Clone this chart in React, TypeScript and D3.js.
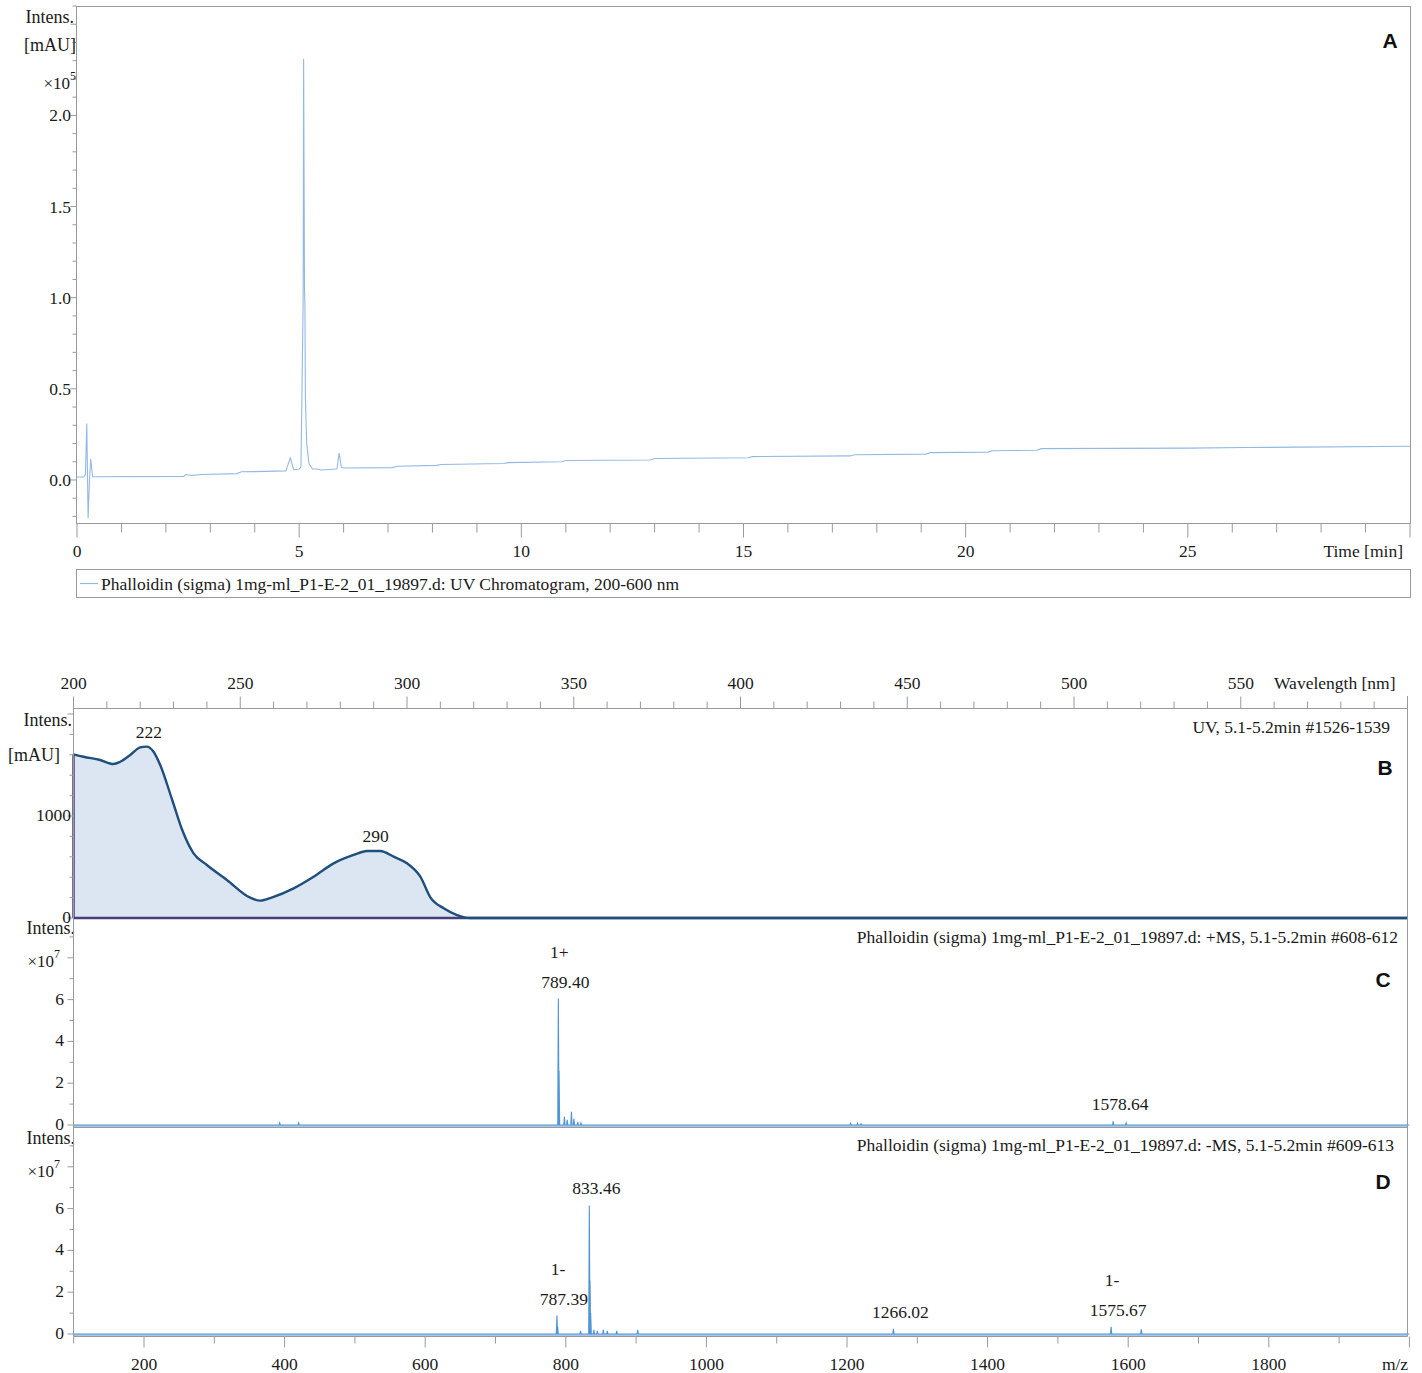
import { useEffect, useRef } from 'react';
import * as d3 from 'd3';

// --- A: UV chromatogram (time in min, intensity x10^5 mAU)
const CHROM_TIME = [0, 0.15, 0.19, 0.22, 0.25, 0.28, 0.31, 0.35, 2.4, 2.45, 2.6, 2.8, 3.6, 3.7, 4.0, 4.7, 4.8, 4.88, 5.0, 5.04, 5.07, 5.09, 5.1, 5.12, 5.13, 5.14, 5.17, 5.22, 5.3, 5.4, 5.5, 5.85, 5.9, 5.95, 6.0, 7.1, 7.2, 8.1, 8.2, 9.6, 9.7, 10.9, 11.0, 12.9, 13.0, 15.1, 15.2, 17.4, 17.5, 19.1, 19.2, 20.5, 20.6, 21.6, 21.7, 25.0, 26.3, 27.5, 30];
const CHROM_INT = [0.016, 0.016, 0.03, 0.31, -0.21, 0.0, 0.115, 0.018, 0.02, 0.03, 0.025, 0.03, 0.035, 0.045, 0.046, 0.05, 0.12, 0.055, 0.06, 0.07, 0.6, 1.0, 2.31, 1.05, 0.95, 0.45, 0.2, 0.09, 0.06, 0.06, 0.055, 0.06, 0.148, 0.07, 0.066, 0.068, 0.075, 0.08, 0.085, 0.09, 0.095, 0.1, 0.107, 0.11, 0.118, 0.122, 0.128, 0.132, 0.138, 0.142, 0.15, 0.153, 0.16, 0.163, 0.172, 0.175, 0.178, 0.18, 0.185];
const TIME_TICKS = [0, 5, 10, 15, 20, 25];
const CHROM_Y_TICKS = [0, 0.5, 1.0, 1.5, 2.0];

// --- B: UV spectrum (nm, mAU)
const WL = [200, 203, 208, 212, 214, 217, 220, 222, 224, 226, 229.6, 232.6, 236, 240, 246, 253, 256, 259.6, 266, 272, 278, 284, 288, 292, 296, 300, 304, 307, 311, 315, 319, 330, 600];
const ABS = [1605, 1581, 1549, 1510, 1532, 1598, 1673, 1680, 1630, 1500, 1157, 863, 634, 520, 373, 199, 170, 203, 291, 405, 536, 618, 657, 657, 601, 536, 405, 203, 95, 29, 0, 0, 0];
const WL_TICKS = [200, 250, 300, 350, 400, 450, 500, 550];
const ABS_TICKS = [0, 1000];
const WL_PEAK_NM = [222, 290];
const WL_PEAK_ABS = [1680, 657];

// --- C: +MS (m/z, intensity x10^7)
const POS_MZ = [393, 420, 789.4, 790.4, 798, 802, 808, 811.6, 817, 821.6, 1205, 1215, 1220, 1578.64, 1597];
const POS_INT = [0.1, 0.1, 6.05, 2.6, 0.4, 0.25, 0.63, 0.3, 0.15, 0.1, 0.08, 0.08, 0.06, 0.18, 0.1];
const POS_LABEL_MZ = [789.4, 1578.64];
const POS_LABEL_TXT = ['789.40', '1578.64'];
const POS_LABEL_Z = ['1+', ''];

// --- D: -MS
const NEG_MZ = [787.39, 788.4, 821, 833.46, 834.46, 835.4, 840, 844.8, 853.3, 859, 872.4, 902.3, 1266.02, 1575.67, 1618.6];
const NEG_INT = [0.88, 0.35, 0.15, 6.15, 2.56, 1.0, 0.2, 0.15, 0.2, 0.15, 0.15, 0.2, 0.25, 0.35, 0.22];
const NEG_LABEL_MZ = [833.46, 787.39, 1266.02, 1575.67];
const NEG_LABEL_TXT = ['833.46', '787.39', '1266.02', '1575.67'];
const NEG_LABEL_Z = ['', '1-', '', '1-'];

const MZ_TICKS = [200, 400, 600, 800, 1000, 1200, 1400, 1600, 1800];
const MS_Y_TICKS = [0, 2, 4, 6];

const SERIF = "'Liberation Serif', 'Times New Roman', serif";
const SANS = "'Liberation Sans', Arial, sans-serif";
const GREY = '#9a9a9a';
const INK = '#1a1a1a';
const FS = 17.5;

export default function App() {
  const svgRef = useRef<SVGSVGElement>(null);

  useEffect(() => {
    if (!svgRef.current) return;
    const W = 1422, H = 1373;
    const svg = d3.select(svgRef.current);
    svg.selectAll('*').remove();
    svg.attr('width', W).attr('height', H).attr('viewBox', `0 0 ${W} ${H}`);

    const txt = (x: number, y: number, s: string, anchor = 'middle', size = FS) =>
      svg.append('text').attr('x', x).attr('y', y).attr('text-anchor', anchor)
        .attr('dominant-baseline', 'central').attr('font-family', SERIF)
        .attr('font-size', size).attr('fill', INK).text(s);
    const line = (x1: number, y1: number, x2: number, y2: number, col = GREY, w = 1) =>
      svg.append('line').attr('x1', x1).attr('y1', y1).attr('x2', x2).attr('y2', y2)
        .attr('stroke', col).attr('stroke-width', w);
    const letter = (x: number, y: number, s: string) =>
      svg.append('text').attr('x', x).attr('y', y).attr('text-anchor', 'middle')
        .attr('dominant-baseline', 'central').attr('font-family', SANS)
        .attr('font-weight', 700).attr('font-size', 21).attr('fill', '#111').text(s);
    const power = (x: number, y: number, base: string, exp: string) => {
      const t = txt(x, y, '', 'end', 17);
      t.append('tspan').text('×' + base).attr('font-size', 17);
      t.append('tspan').text(exp).attr('font-size', 12).attr('dy', -7);
    };

    // ================= Panel A =================
    const xA = d3.scaleLinear().domain([0, 30]).range([77, 1410]);
    const yA = d3.scaleLinear().domain([-0.236, 2.6]).range([523, 6]);
    svg.append('rect').attr('x', 76.5).attr('y', 6.5).attr('width', 1334).attr('height', 517)
      .attr('fill', 'none').attr('stroke', GREY);

    d3.range(-0.2, 2.61, 0.1).forEach(v => {
      const major = Math.abs(v * 2 - Math.round(v * 2)) < 1e-6;
      line(76.5 - (major ? 6 : 4), yA(v), 76.5, yA(v));
    });
    CHROM_Y_TICKS.forEach(v => txt(71, yA(v), v.toFixed(1), 'end'));
    txt(74, 17, 'Intens.', 'end', 18);
    txt(76, 45, '[mAU]', 'end', 18);
    power(76, 83, '10', '5');

    d3.range(0, 31, 1).forEach(v => {
      const major = v % 5 === 0;
      line(xA(v), 523.5, xA(v), 523.5 + (major ? 14 : 9));
    });
    TIME_TICKS.forEach(v => txt(xA(v), 551, String(v)));
    txt(1403, 551, 'Time [min]', 'end');

    const chrom = d3.line<number>().x((_, i) => xA(CHROM_TIME[i])).y(d => yA(d));
    svg.append('path').attr('d', chrom(CHROM_INT)).attr('fill', 'none')
      .attr('stroke', '#94b8e4').attr('stroke-width', 1.1);
    letter(1390, 40, 'A');

    // legend
    svg.append('rect').attr('x', 76.5).attr('y', 569.5).attr('width', 1334).attr('height', 28)
      .attr('fill', 'none').attr('stroke', GREY);
    line(80, 583.5, 98, 583.5, '#94b8e4', 1.2);
    txt(101, 584, 'Phalloidin (sigma) 1mg-ml_P1-E-2_01_19897.d: UV Chromatogram, 200-600 nm', 'start');

    // ================= Panel B =================
    const L = 73.5, R = 1407.5;
    const xB = d3.scaleLinear().domain([200, 600]).range([L, R]);
    const yB = d3.scaleLinear().domain([0, 2059]).range([918, 708]);

    line(L, 708.5, R, 708.5);
    d3.range(200, 601, 10).forEach(v => {
      const major = v % 50 === 0;
      line(xB(v), 708.5, xB(v), 708.5 - (major ? 12 : 7));
    });
    WL_TICKS.forEach(v => txt(xB(v), 683, String(v)));
    txt(1274, 683, 'Wavelength [nm]', 'start');

    const area = d3.area<number>().x((_, i) => xB(WL[i])).y0(yB(0)).y1(d => yB(d)).curve(d3.curveMonotoneX);
    svg.append('path').attr('d', area(ABS)).attr('fill', '#dce6f2');
    const spec = d3.line<number>().x((_, i) => xB(WL[i])).y(d => yB(d)).curve(d3.curveMonotoneX);
    line(L, yB(0), R, yB(0), '#4a3f7e', 2.5);
    line(L, yB(0), L, yB(ABS[0]), '#4a3f7e', 2.5);
    svg.append('path').attr('d', spec(ABS)).attr('fill', 'none')
      .attr('stroke', '#1f4f7d').attr('stroke-width', 2.4);
    WL_PEAK_NM.forEach((nm, i) => txt(xB(nm) + 2, yB(WL_PEAK_ABS[i]) - 15, String(nm)));

    d3.range(0, 2001, 200).forEach(v => line(L - (v % 1000 === 0 ? 6 : 4), yB(v), L, yB(v)));
    ABS_TICKS.forEach(v => txt(71, yB(v) - 1, String(v), 'end'));
    txt(72, 720, 'Intens.', 'end', 18);
    txt(60, 755, '[mAU]', 'end', 18);
    txt(1390, 727, 'UV, 5.1-5.2min #1526-1539', 'end');
    letter(1385, 767, 'B');

    // ================= Panels C & D =================
    const xM = d3.scaleLinear().domain([100, 2000]).range([73.7, 1409.4]);
    const msPanel = (
      top: number, bottom: number, zero: number, mz: number[], ints: number[],
      lblMz: number[], lblTxt: string[], lblZ: string[], header: string, hdrX: number, hdrY: number,
      letterTxt: string, letterY: number,
    ) => {
      const y = d3.scaleLinear().domain([0, 2]).range([zero, zero - 41.8]);
      d3.range(0, 10, 1).forEach(v => {
        if (y(v) < top + 2) return;
        line(L - (v % 2 === 0 ? 6 : 4), y(v), L, y(v));
      });
      MS_Y_TICKS.forEach(v => txt(64, y(v) - 1, String(v), 'end'));
      txt(75, top + 10, 'Intens.', 'end', 18);
      power(60, top + 43, '10', '7');

      // baseline
      line(L, zero + 1, R, zero + 1, '#a9c8e8', 2.2);
      line(L, bottom, R, bottom, GREY, 1);

      const pts: [number, number][] = [[100, 0]];
      mz.map((m, i) => [m, ints[i]] as [number, number])
        .sort((a, b) => a[0] - b[0])
        .forEach(([m, h]) => { pts.push([m - 0.9, 0], [m, h], [m + 0.9, 0]); });
      pts.push([2000, 0]);
      const sp = d3.line<[number, number]>().x(d => xM(d[0])).y(d => y(d[1]));
      svg.append('path').attr('d', sp(pts)).attr('fill', 'none')
        .attr('stroke', '#4f95d6').attr('stroke-width', 1.1);

      lblMz.forEach((m, i) => {
        const h = ints[mz.indexOf(m)];
        const tip = y(h);
        txt(xM(m) + 7, tip - 17, lblTxt[i]);
        if (lblZ[i]) txt(xM(m) + 1, tip - 47, lblZ[i]);
      });
      txt(hdrX, hdrY, header, 'end');
      letter(1383, letterY, letterTxt);
    };

    msPanel(918, 1127.5, 1125, POS_MZ, POS_INT, POS_LABEL_MZ, POS_LABEL_TXT, POS_LABEL_Z,
      'Phalloidin (sigma) 1mg-ml_P1-E-2_01_19897.d: +MS, 5.1-5.2min #608-612', 1398, 937, 'C', 979);
    msPanel(1128, 1336.5, 1334, NEG_MZ, NEG_INT, NEG_LABEL_MZ, NEG_LABEL_TXT, NEG_LABEL_Z,
      'Phalloidin (sigma) 1mg-ml_P1-E-2_01_19897.d: -MS, 5.1-5.2min #609-613', 1394, 1145, 'D', 1181);

    // frame of B-D
    line(L, 700, L, 1336.5);
    line(R, 696, R, 1336.5);

    // bottom m/z axis
    d3.range(100, 2001, 100).forEach(v => {
      const major = v % 200 === 0;
      line(xM(v), 1336.5, xM(v), 1336.5 + (major ? 11 : 7));
    });
    MZ_TICKS.forEach(v => txt(xM(v), 1364, String(v)));
    txt(1395, 1364, 'm/z');
  }, []);

  return (
    <svg ref={svgRef} style={{ position: 'absolute', left: 0, top: 0, background: '#fff' }} />
  );
}
